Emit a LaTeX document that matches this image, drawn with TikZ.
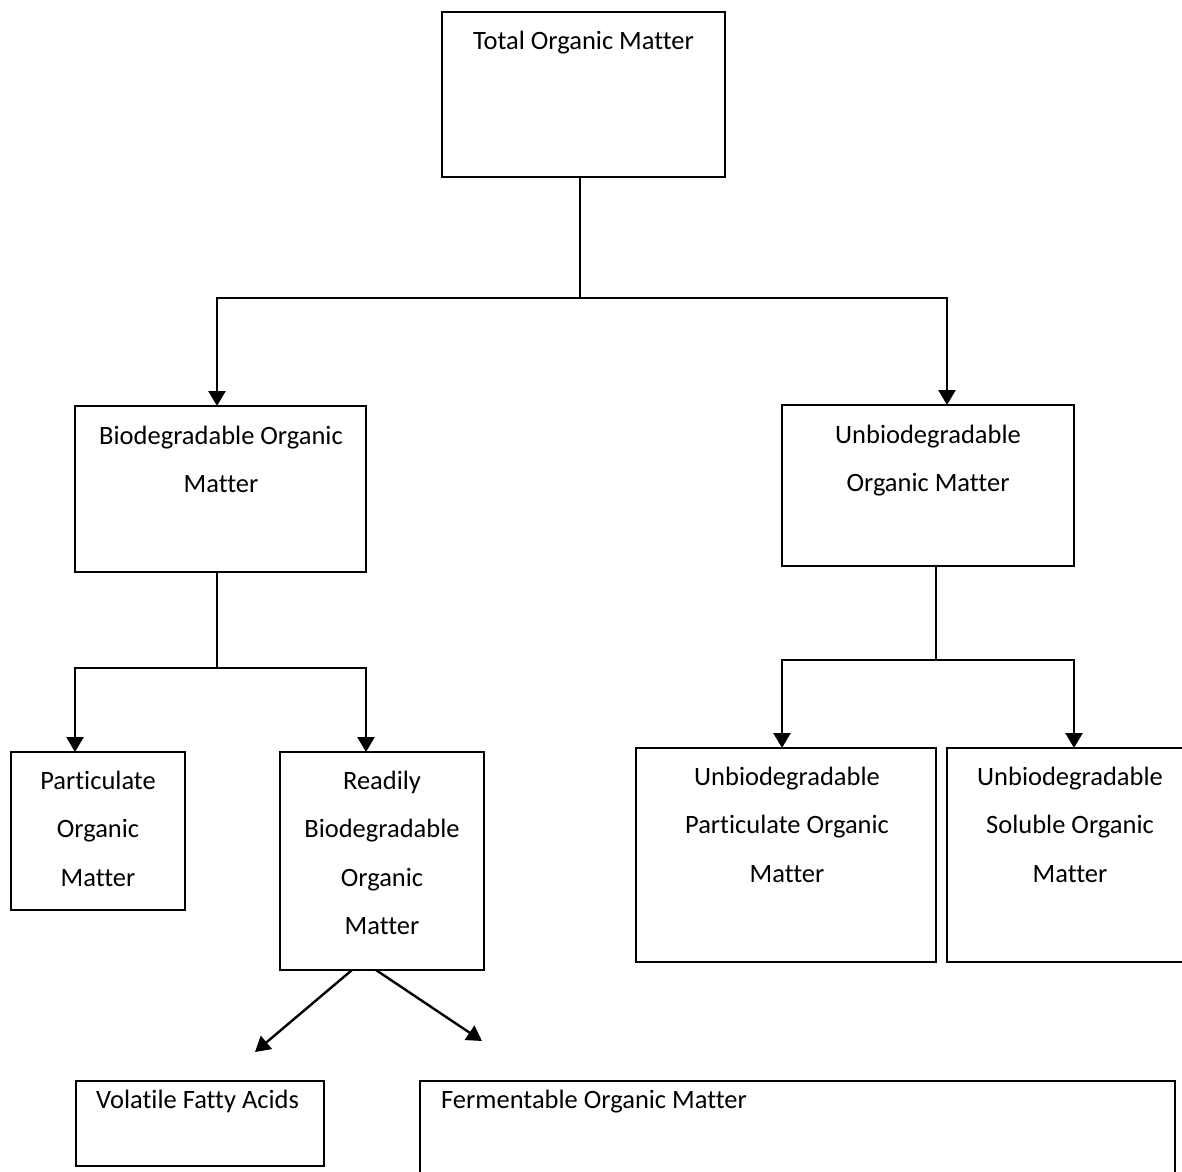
\documentclass[tikz,border=0pt]{standalone}
\usepackage{fontspec}
\setmainfont{Carlito}[Ligatures=CommonOff]
\usetikzlibrary{arrows.meta,positioning}

\begin{document}
\begin{tikzpicture}[
    x=1pt, y=-1pt,
    box/.style = {rectangle, draw=black, line width=2pt, inner sep=0pt, outer sep=0pt,
                  anchor=north west},
    txt/.style = {inner sep=0pt, align=center, anchor=north,
                  font=\fontsize{26.5}{48.5}\selectfont},
    link/.style = {line width=2.4pt, black},
    arrow/.style = {link, -{Triangle[length=15pt, width=17pt]}}
  ]
    \useasboundingbox (0,0) rectangle (1182,1171);
    % boxes
    \node[box, minimum width=283pt, minimum height=165pt] (tom)  at (442,12)   {};
    \node[box, minimum width=291pt, minimum height=166pt] (bom)  at (75,406)   {};
    \node[box, minimum width=292pt, minimum height=161pt] (unb)  at (782,405)  {};
    \node[box, minimum width=174pt, minimum height=158pt] (pom)  at (11,752)   {};
    \node[box, minimum width=204pt, minimum height=218pt] (rbom) at (280,752)  {};
    \node[box, minimum width=300pt, minimum height=214pt] (upm)  at (636,748)  {};
    \node[box, minimum width=246pt, minimum height=214pt] (usm)  at (947,748)  {};
    \node[box, minimum width=248pt, minimum height=85pt]  (vfa)  at (76,1081)  {};
    \node[box, minimum width=755pt, minimum height=130pt] (fom)  at (420,1081) {};
    % texts
    \node[txt] (tomt)  at ([yshift=-18.5pt]tom.north) {Total Organic Matter};
    \node[txt] (bomt)  at ([xshift=0.5pt, yshift=-19.5pt]bom.north) {Biodegradable Organic\\Matter};
    \node[txt] (unbt)  at ([yshift=-19.5pt]unb.north) {Unbiodegradable\\Organic Matter};
    \node[txt] (pomt)  at ([yshift=-18.5pt]pom.north) {Particulate\\Organic\\Matter};
    \node[txt] (rbomt) at ([yshift=-18.5pt]rbom.north) {Readily\\Biodegradable\\Organic\\Matter};
    \node[txt] (upmt)  at ([xshift=1pt, yshift=-18.5pt]upm.north) {Unbiodegradable\\Particulate Organic\\Matter};
    \node[txt] (usmt)  at ([yshift=-18.5pt]usm.north) {Unbiodegradable\\Soluble Organic\\Matter};
    \node[txt, anchor=north west] (vfat) at ([xshift=20pt, yshift=-8.5pt]vfa.north west) {Volatile Fatty Acids};
    \node[txt, anchor=north west] (fomt) at ([xshift=21pt, yshift=-8.5pt]fom.north west) {Fermentable Organic Matter};
    % connectors
    \coordinate (top) at (580,298);
    \draw[link]  ([xshift=-3.5pt]tom.south) -- (top);
    \draw[arrow] (top) -| ([xshift=-3.5pt]bom.north);
    \draw[arrow] (top) -| ([xshift=19pt]unb.north);
    \coordinate (mid) at (217,668);
    \draw[link]  ([xshift=-3.5pt]bom.south) -- (mid);
    \draw[arrow] (mid) -| ([xshift=-23pt]pom.north);
    \draw[arrow] (mid) -| ([xshift=-16pt]rbom.north);
    \coordinate (rgt) at (936,660);
    \draw[link]  ([xshift=8pt]unb.south) -- (rgt);
    \draw[arrow] (rgt) -| ([xshift=-4pt]upm.north);
    \draw[arrow] (rgt) -| ([xshift=4pt]usm.north);
    \coordinate (vfaend) at (255,1052);
    \coordinate (fomend) at (482,1041);
    \draw[arrow] ([xshift=-30pt]rbom.south) -- (vfaend);
    \draw[arrow] ([xshift=-6pt]rbom.south) -- (fomend);
\end{tikzpicture}
\end{document}
